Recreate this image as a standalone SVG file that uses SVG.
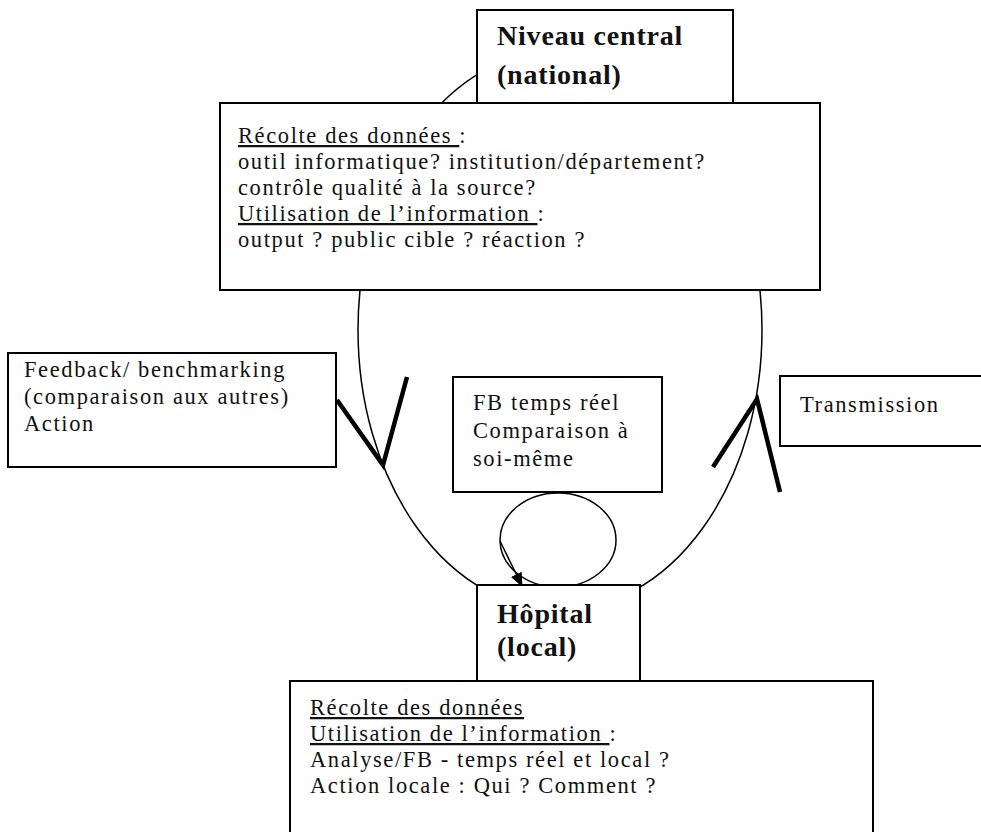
<svg xmlns="http://www.w3.org/2000/svg" width="981" height="832" viewBox="0 0 981 832">
<defs>
<style>
.box{fill:#fff;stroke:#000;stroke-width:2}
.t{font-family:"Liberation Serif","Times New Roman",serif;font-size:22.5px;letter-spacing:1.6px;fill:#111}
.b{font-family:"Liberation Serif","Times New Roman",serif;font-size:28px;letter-spacing:0.8px;font-weight:bold;fill:#111}
.u{text-decoration:underline}
.thin{fill:none;stroke:#000;stroke-width:1.5}
.thick{fill:none;stroke:#000;stroke-width:4.5;stroke-linejoin:miter}
</style>
<marker id="ah" viewBox="0 0 14 12" refX="13" refY="6" markerWidth="14" markerHeight="12" markerUnits="userSpaceOnUse" orient="auto"><path d="M0,0 L14,6 L0,12 z" fill="#000"/></marker>
</defs>
<rect width="981" height="832" fill="#fff"/>
<g id="connectors">
<ellipse class="thin" cx="560" cy="330" rx="202" ry="280"/>
<ellipse class="thin" cx="558" cy="540" rx="58" ry="47"/>
<path class="thin" d="M500,541 L522,586" marker-end="url(#ah)"/>
<polyline class="thick" points="337,400 383,465 407,377"/>
<polyline class="thick" points="713,467 757,399 780,492"/>
</g>
<g id="niveau-central">
<rect class="box" x="477" y="10" width="256" height="93"/>
<text class="b" x="497" y="45">Niveau central</text>
<text class="b" x="497" y="84">(national)</text>
</g>
<g id="info-central">
<rect class="box" x="220" y="103" width="600" height="187"/>
<text class="t" x="238" y="143"><tspan class="u">Récolte des données </tspan>:</text>
<text class="t" x="238" y="169">outil informatique? institution/département?</text>
<text class="t" x="238" y="195">contrôle qualité à la source?</text>
<text class="t" x="238" y="221"><tspan class="u">Utilisation de l’information </tspan>:</text>
<text class="t" x="238" y="247">output ? public cible ? réaction ?</text>
</g>
<g id="feedback">
<rect class="box" x="8" y="353" width="328" height="114"/>
<text class="t" x="24" y="377">Feedback/ benchmarking</text>
<text class="t" x="24" y="404">(comparaison aux autres)</text>
<text class="t" x="24" y="431">Action</text>
</g>
<g id="fb-temps-reel">
<rect class="box" x="453" y="377" width="209" height="115"/>
<text class="t" x="473" y="410">FB temps réel</text>
<text class="t" x="473" y="438">Comparaison à</text>
<text class="t" x="473" y="466">soi-même</text>
</g>
<g id="transmission">
<rect class="box" x="780" y="376" width="215" height="70"/>
<text class="t" x="800" y="412">Transmission</text>
</g>
<g id="hopital">
<rect class="box" x="477" y="585" width="163" height="96"/>
<text class="b" x="497" y="623">Hôpital</text>
<text class="b" x="497" y="656">(local)</text>
</g>
<g id="info-local">
<rect class="box" x="290" y="681" width="583" height="160"/>
<text class="t" x="310" y="715"><tspan class="u">Récolte des données</tspan></text>
<text class="t" x="310" y="741"><tspan class="u">Utilisation de l’information </tspan>:</text>
<text class="t" x="310" y="767">Analyse/FB -  temps réel et local ?</text>
<text class="t" x="310" y="793">Action locale : Qui ? Comment ?</text>
</g>
</svg>
